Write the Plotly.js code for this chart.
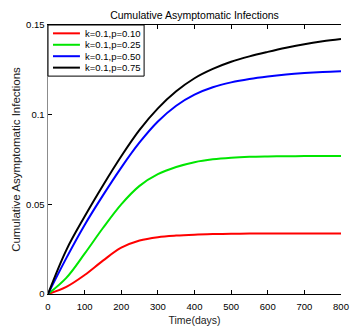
<!DOCTYPE html>
<html>
<head>
<meta charset="utf-8">
<script src="https://cdn.plot.ly/plotly-3.0.1.min.js"></script>
<style>
  html, body { margin: 0; padding: 0; background: #fff; }
  #chartDiv { width: 362px; height: 333px; }
</style>
</head>
<body>
<div id="chartDiv"></div>
<script>
// values, one point every 50 days
var tDays = [0, 50, 100, 150, 200, 250, 300, 350, 400, 450, 500, 550, 600, 650, 700, 750, 800];
var yRed = [0, 0.0040, 0.0106, 0.0186, 0.0258, 0.0298, 0.0317, 0.0326, 0.0331, 0.0334, 0.0336, 0.0337, 0.0337, 0.0337, 0.0337, 0.0337, 0.0337];
var yGreen = [0, 0.0090, 0.0225, 0.0368, 0.0500, 0.0603, 0.0668, 0.0708, 0.0735, 0.0751, 0.0760, 0.0765, 0.0767, 0.0768, 0.0769, 0.0770, 0.0770];
var yBlue = [0, 0.0200, 0.0385, 0.0550, 0.0705, 0.0845, 0.0962, 0.1050, 0.1112, 0.1153, 0.1180, 0.1199, 0.1213, 0.1224, 0.1232, 0.1238, 0.1242];
var yBlack = [0, 0.0245, 0.0432, 0.0605, 0.0768, 0.0915, 0.1035, 0.1130, 0.1203, 0.1255, 0.1295, 0.1325, 0.1350, 0.1373, 0.1393, 0.1409, 0.1422];

var seriesNames = ['k=0.1,p=0.10', 'k=0.1,p=0.25', 'k=0.1,p=0.50', 'k=0.1,p=0.75'];
var seriesColors = ['#ff0000', '#00e600', '#0000ff', '#000000'];

var xTicks = [0, 100, 200, 300, 400, 500, 600, 700, 800];
var yTicks = [0, 0.05, 0.1, 0.15];
var yTickText = ['0', '0.05', '0.1', '0.15'];

var FONT = 'Liberation Sans, Arial, sans-serif';

var ys = [yRed, yGreen, yBlue, yBlack];
var data = [];
for (var i = 0; i < ys.length; i++) {
    data.push({
        x: tDays,
        y: ys[i],
        mode: 'lines',
        type: 'scatter',
        name: seriesNames[i],
        line: { color: seriesColors[i], width: 2, shape: 'spline', smoothing: 1 },
        showlegend: false
    });
}

// legend drawn by hand so it stays as compact as the original
var shapes = [];
var annotations = [];
var legTop = 1.0, legBottom = 0.81, legRight = 0.328;
shapes.push({
    type: 'rect', xref: 'paper', yref: 'paper',
    x0: 0, x1: legRight, y0: legBottom, y1: legTop,
    line: { color: '#000', width: 1 }, fillcolor: '#fff', layer: 'above'
});
var rowStep = 0.0425;
for (var j = 0; j < seriesNames.length; j++) {
    var yy = 0.969 - j * rowStep;
    shapes.push({
        type: 'line', xref: 'paper', yref: 'paper',
        x0: 0.017, x1: 0.109, y0: yy, y1: yy,
        line: { color: seriesColors[j], width: 2 }, layer: 'above'
    });
    annotations.push({
        xref: 'paper', yref: 'paper', x: 0.118, y: yy,
        xanchor: 'left', yanchor: 'middle', showarrow: false,
        text: seriesNames[j], font: { family: FONT, size: 9.5, color: '#000' }
    });
}

var layout = {
    width: 362,
    height: 333,
    margin: { l: 48, r: 21, t: 25, b: 39 },
    paper_bgcolor: '#fff',
    plot_bgcolor: '#fff',
    showlegend: false,
    font: { family: FONT, size: 10, color: '#000' },
    title: {
        text: 'Cumulative Asymptomatic Infections',
        font: { family: FONT, size: 10.5, color: '#000' },
        x: 0.5, xref: 'paper', y: 0.955, yref: 'container', yanchor: 'middle'
    },
    xaxis: {
        title: { text: 'Time(days)', font: { family: FONT, size: 10.5, color: '#222' }, standoff: 5 },
        range: [0, 800],
        tickvals: xTicks,
        ticks: 'inside', ticklen: 4, tickcolor: '#000',
        ticklabelstandoff: 4,
        showline: true, linecolor: '#000', linewidth: 1, mirror: 'ticks',
        showgrid: false, zeroline: false,
        tickfont: { family: FONT, size: 9.5, color: '#000' }
    },
    yaxis: {
        title: { text: 'Cumulative Asymptomatic Infections', font: { family: FONT, size: 11.5, color: '#222' }, standoff: 3 },
        range: [0, 0.15],
        tickvals: yTicks,
        ticktext: yTickText,
        ticks: 'inside', ticklen: 4, tickcolor: '#000',
        showline: true, linecolor: '#8c8c8c', linewidth: 1.5,
        showgrid: false, zeroline: false,
        tickfont: { family: FONT, size: 9.5, color: '#000' }
    },
    yaxis2: {
        overlaying: 'y', side: 'right', matches: 'y',
        range: [0, 0.15], tickvals: yTicks,
        ticks: 'inside', ticklen: 4, tickcolor: '#000',
        showticklabels: false,
        showline: true, linecolor: '#000', linewidth: 1,
        showgrid: false, zeroline: false
    },
    shapes: shapes,
    annotations: annotations
};

Plotly.newPlot('chartDiv', data, layout, { displayModeBar: false, staticPlot: true });
</script>
</body>
</html>
